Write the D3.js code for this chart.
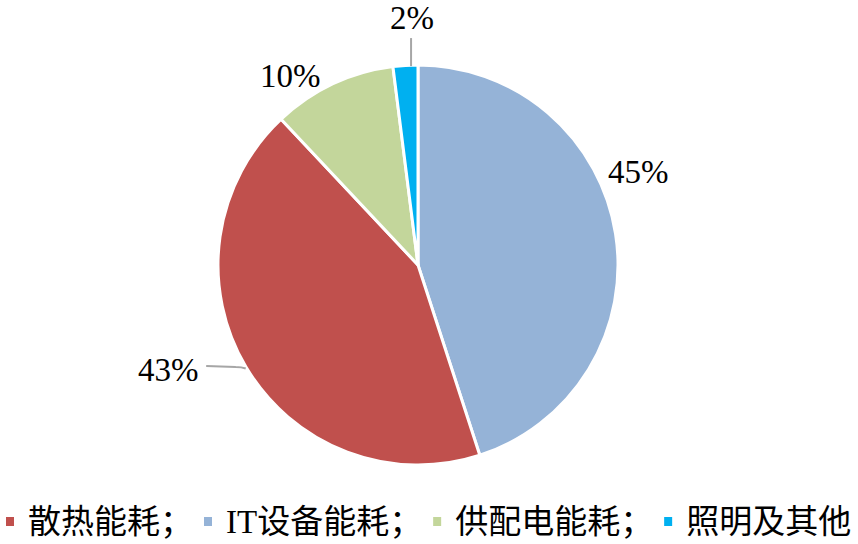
<!DOCTYPE html>
<html><head><meta charset="utf-8">
<script src="https://cdn.jsdelivr.net/npm/d3@7"></script>
<style>body{margin:0;background:#fff}svg{display:block}</style>
</head><body>
<svg id="c" width="858" height="544"></svg>
<script>
// Data (pie order, clockwise from 12 o'clock)
const categories = ["IT设备能耗", "散热能耗", "供配电能耗", "照明及其他"];
const values = [45, 43, 10, 2];
const colors = ["#95B3D7", "#C0504D", "#C3D69B", "#00B0F0"];
// Legend order
const legendOrder = ["散热能耗", "IT设备能耗", "供配电能耗", "照明及其他"];
const legendSep = ["；", "；", "；", ""];

// Label placement (styling): angle (deg from top, clockwise) and radius
const labelAngle = [67.1, 247.2, 325.9, 358.6];
const labelRadius = [239, 271, 228, 247];

const W = 858, H = 544, cx = 418, cy = 265, R = 200;
const svg = d3.select("#c");
const g = svg.append("g").attr("transform", `translate(${cx},${cy})`);

const pie = d3.pie().sort(null).value(d => d);
const arcs = pie(values);
const arc = d3.arc().innerRadius(0).outerRadius(R);

g.selectAll("path.slice").data(arcs).join("path")
  .attr("class", "slice")
  .attr("d", arc)
  .attr("fill", (d, i) => colors[i])
  .attr("stroke", "#fff")
  .attr("stroke-width", 3)
  .attr("stroke-linejoin", "round");

const pos = (i) => {
  const a = labelAngle[i] * Math.PI / 180;
  return [labelRadius[i] * Math.sin(a), -labelRadius[i] * Math.cos(a)];
};
const onCircle = (deg, r) => {
  const a = deg * Math.PI / 180;
  return [r * Math.sin(a), -r * Math.cos(a)];
};

const lineColor = "#A6A6A6";
// leader line for 43%
{
  const p = pos(1);
  const e = onCircle(239, R + 1);
  const s = [p[0] + 38, p[1] - 4];
  const m = [e[0] - 10, s[1] + 1];
  g.append("path")
    .attr("d", `M${s[0]},${s[1]} L${m[0]},${m[1]} Q${e[0]-4},${m[1]} ${e[0]},${e[1]}`)
    .attr("fill", "none").attr("stroke", lineColor).attr("stroke-width", 2);
}
// leader line for 2%
{
  const p = pos(3);
  const e = onCircle(358.0, R - 1);
  g.append("line")
    .attr("x1", e[0]).attr("x2", e[0])
    .attr("y1", p[1] + 20).attr("y2", e[1])
    .attr("stroke", lineColor).attr("stroke-width", 2);
}

g.selectAll("text.lbl").data(arcs).join("text")
  .attr("class", "lbl")
  .attr("x", (d, i) => pos(i)[0])
  .attr("y", (d, i) => pos(i)[1])
  .attr("text-anchor", "middle")
  .attr("dominant-baseline", "central")
  .attr("font-family", "'Liberation Serif','Times New Roman',serif")
  .attr("font-size", 33)
  .attr("fill", "#000")
  .text(d => d.value + "%");

// Legend
const leg = svg.append("g");
let x = 6;
const ly = 521;
legendOrder.forEach((name, k) => {
  const i = categories.indexOf(name);
  leg.append("rect").attr("x", x).attr("y", ly - 4).attr("width", 8).attr("height", 9)
    .attr("fill", colors[i]);
  const t = leg.append("text")
    .attr("x", x + 22).attr("y", ly + 1)
    .attr("dominant-baseline", "central")
    .attr("font-family", "'Liberation Serif','Noto Sans CJK SC',serif")
    .attr("font-size", 33)
    .attr("fill", "#000")
    .text(name + legendSep[k]);
  x += 22 + t.node().getComputedTextLength() + 11;
});
</script>
</body></html>
